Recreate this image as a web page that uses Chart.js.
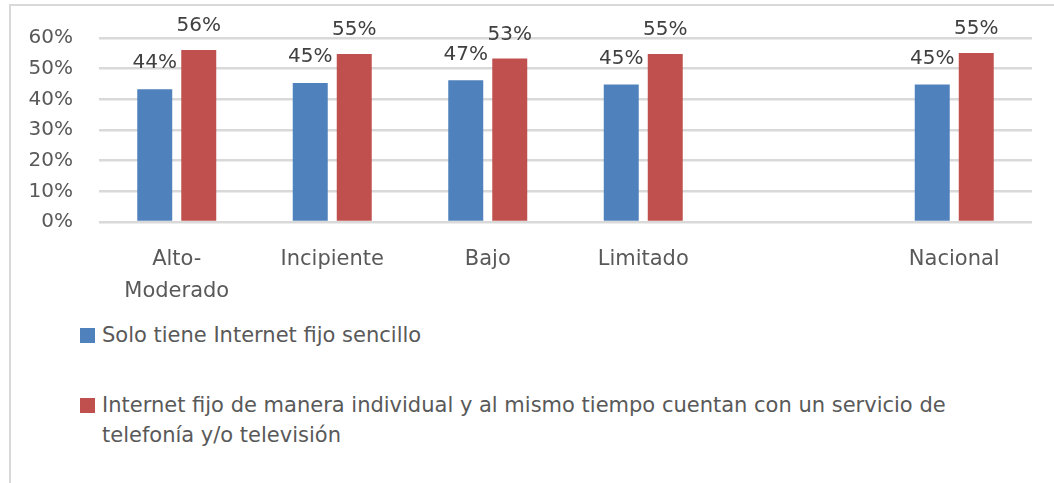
<!DOCTYPE html>
<html>
<head>
<meta charset="utf-8">
<script src="https://cdn.jsdelivr.net/npm/chart.js@4/dist/chart.umd.min.js"></script>
<style>
  html, body { margin: 0; padding: 0; background: #fff; }
  body { width: 1054px; height: 483px; position: relative; overflow: hidden; font-family: 'DejaVu Sans', sans-serif; }
  #frame { position: absolute; left: 9px; top: 4px; width: 1100px; height: 600px;
           border-left: 2.5px solid #d9d9d9; border-top: 2.5px solid #d9d9d9; }
  #wrap { position: absolute; left: 0; top: 0; width: 1054px; height: 310px; }
  #legend { position: absolute; left: 80px; top: 320px; width: 890px; color: #595959; font-size: 21px; }
  .item { position: relative; padding-left: 22px; line-height: 30px; }
  .item .box { position: absolute; left: 0; top: 8px; width: 15px; height: 15px; }
  .item + .item { margin-top: 40px; }
</style>
</head>
<body>
<div id="frame"></div>
<div id="wrap"><canvas id="chart"></canvas></div>
<div id="legend"></div>
<script>
// categorias (la quinta va vacia, deja el hueco antes de Nacional)
const categories = [['Alto-', 'Moderado'], 'Incipiente', 'Bajo', 'Limitado', '', 'Nacional'];
const seriesNames = [
  'Solo tiene Internet fijo sencillo',
  'Internet fijo de manera individual y al mismo tiempo cuentan con un servicio de telefonía y/o televisión'
];
const sencillo = [43.3, 45.3, 46.2, 44.8, null, 44.8];
const combinado = [56.1, 54.8, 53.3, 54.8, null, 55.1];
const sencilloLabels = ['44%', '45%', '47%', '45%', '', '45%'];
const combinadoLabels = ['56%', '55%', '53%', '55%', '', '55%'];
const colors = ['#4f81bd', '#c0504d'];
const fontFamily = 'DejaVu Sans';

// etiquetas encima de cada barra
const barLabels = {
  id: 'barLabels',
  afterDatasetsDraw(chart) {
    const ctx = chart.ctx;
    const texts = [sencilloLabels, combinadoLabels];
    ctx.save();
    ctx.font = '20px "' + fontFamily + '"';
    ctx.fillStyle = '#404040';
    ctx.textAlign = 'center';
    ctx.textBaseline = 'middle';
    chart.data.datasets.forEach((ds, i) => {
      chart.getDatasetMeta(i).data.forEach((bar, j) => {
        if (ds.data[j] == null) return;
        ctx.fillText(texts[i][j], bar.x, bar.y - (i === 0 ? 26 : 24));
      });
    });
    ctx.restore();
  }
};

const chart = new Chart(document.getElementById('chart'), {
  type: 'bar',
  data: {
    labels: categories,
    datasets: [
      { label: seriesNames[0], data: sencillo, backgroundColor: colors[0] },
      { label: seriesNames[1], data: combinado, backgroundColor: colors[1] }
    ]
  },
  options: {
    responsive: true,
    maintainAspectRatio: false,
    animation: false,
    layout: { padding: { left: 0, right: 22, top: 37, bottom: 0 } },
    categoryPercentage: 0.566,
    barPercentage: 0.795,
    plugins: {
      legend: { display: false },
      tooltip: { enabled: false }
    },
    scales: {
      x: {
        grid: { display: false },
        border: { display: false },
        ticks: { color: '#595959', font: { family: fontFamily, size: 21, lineHeight: 1.52 }, padding: 14, maxRotation: 0, autoSkip: false },
        afterFit(scale) { scale.height = 310 - 37 - 185; }
      },
      y: {
        min: 0,
        max: 60,
        grid: { color: '#d9d9d9', lineWidth: 2.5, drawTicks: false },
        border: { display: false },
        ticks: {
          stepSize: 10,
          padding: 26,
          color: '#595959',
          font: { family: fontFamily, size: 20 },
          callback: v => v + '%'
        },
        afterFit(scale) { scale.width = 99; }
      }
    }
  },
  plugins: [barLabels]
});

// leyenda en html para poder partir la linea larga
const legend = document.getElementById('legend');
seriesNames.forEach((name, i) => {
  const item = document.createElement('div');
  item.className = 'item';
  const box = document.createElement('span');
  box.className = 'box';
  box.style.background = colors[i];
  item.appendChild(box);
  item.appendChild(document.createTextNode(name));
  legend.appendChild(item);
});
</script>
</body>
</html>
